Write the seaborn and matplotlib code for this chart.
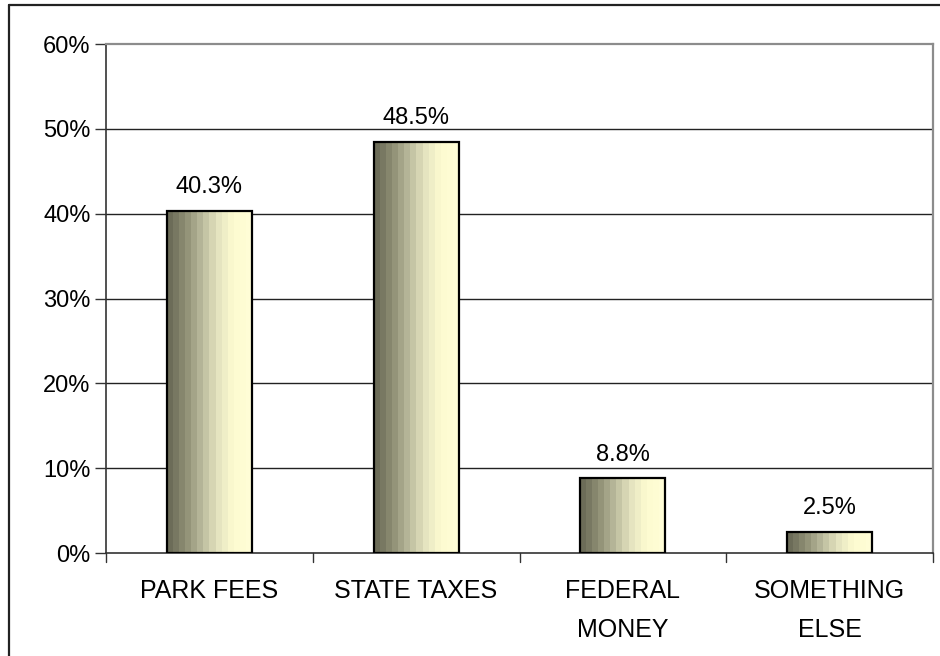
import matplotlib
matplotlib.use("Agg")
import matplotlib.pyplot as plt
import numpy as np
import pandas as pd
import seaborn as sns
from matplotlib.colors import LinearSegmentedColormap
from matplotlib.lines import Line2D

categories = ["PARK FEES", "STATE TAXES", "FEDERAL\nMONEY", "SOMETHING\nELSE"]
values = [40.3, 48.5, 8.8, 2.5]
value_labels = ["40.3%", "48.5%", "8.8%", "2.5%"]
y_ticks = [0, 10, 20, 30, 40, 50, 60]
y_tick_labels = ["0%", "10%", "20%", "30%", "40%", "50%", "60%"]

sns.set_theme(style="white")
plt.rcParams["font.family"] = ["Liberation Sans", "DejaVu Sans"]

df = pd.DataFrame({"source": categories, "share": values})

fig = plt.figure(figsize=(9.4, 6.56), dpi=100)
ax = fig.add_axes([106 / 940, 1 - 553 / 656, (933 - 106) / 940, (553 - 44) / 656])

sns.barplot(data=df, x="source", y="share", ax=ax, width=0.41,
            color="#c8c8a8", edgecolor="black", linewidth=1.6, zorder=3)

# banded olive-to-cream gradient inside each bar
cmap = LinearSegmentedColormap.from_list(
    "olive", ["#6c6c58", "#8e8e74", "#b8b89a", "#e4e3bf", "#fdfbd0", "#fffdd6"])
bands = np.linspace(0, 1, 14).reshape(1, -1)
for patch in ax.patches:
    x0, y0 = patch.get_x(), patch.get_y()
    w, h = patch.get_width(), patch.get_height()
    im = ax.imshow(bands, cmap=cmap, aspect="auto", interpolation="nearest",
                   extent=[x0, x0 + w, y0, y0 + h], zorder=2.5)
    im.set_clip_path(patch)
    patch.set_facecolor("none")

ax.set_xlim(-0.5, len(categories) - 0.5)
ax.set_ylim(0, 60)
ax.set_yticks(y_ticks)
ax.set_yticklabels(y_tick_labels, fontsize=17, color="black")
ax.set_xticks(range(len(categories)))
ax.set_xticklabels(categories, fontsize=18, color="black", linespacing=1.75)
ax.tick_params(axis="x", length=0, pad=19)
ax.tick_params(axis="y", length=8, width=1, color="#333333", direction="out",
               left=True, pad=3)
ax.set_xlabel("")
ax.set_ylabel("")

ax.grid(False)
for yv in y_ticks[1:-1]:
    ax.axhline(yv, color="#222222", linewidth=1.0, zorder=1)

# plot frame: dark axes on left/bottom, grey box on top/right
for side in ["top", "right"]:
    ax.spines[side].set_visible(True)
    ax.spines[side].set_color("#8c8c8c")
    ax.spines[side].set_linewidth(1.6)
for side in ["left", "bottom"]:
    ax.spines[side].set_visible(True)
    ax.spines[side].set_color("#333333")
    ax.spines[side].set_linewidth(1.2)

# category separators below the baseline
for xb in np.arange(-0.5, len(categories), 1.0):
    ax.plot([xb, xb], [0, -1.1], color="#333333", linewidth=1.0,
            clip_on=False, zorder=4)

for i, (v, lab) in enumerate(zip(values, value_labels)):
    ax.text(i, v + 1.5, lab, ha="center", va="bottom", fontsize=17, color="black")

# outer chart frame on the left and top edges
fig.add_artist(Line2D([9 / 940, 9 / 940], [0, 1 - 5 / 656], color="#222222",
                      linewidth=1.6, transform=fig.transFigure))
fig.add_artist(Line2D([9 / 940, 1], [1 - 5 / 656, 1 - 5 / 656], color="#222222",
                      linewidth=1.6, transform=fig.transFigure))

fig.savefig("out.png", dpi=100, facecolor="white")
